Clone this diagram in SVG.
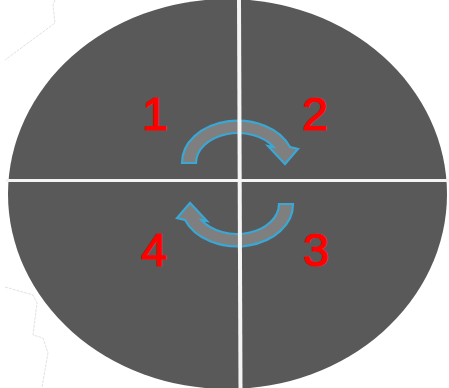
<svg xmlns="http://www.w3.org/2000/svg" width="449" height="388" viewBox="0 0 449 388">
  <style>
    .disc { fill: #595959; }
    .divider { stroke: #f4f4f4; fill: none; }
    .arrow { fill: #7f7f7f; stroke: #3aa7d4; stroke-width: 2.2; stroke-linejoin: miter; }
    .num { font-family: "Liberation Sans", Arial, sans-serif; font-size: 47px; fill: #ff0000; stroke: #ff0000; stroke-width: 1.2; text-anchor: middle; }
    .edge { fill: none; stroke: #e2e2e2; stroke-width: 1; stroke-dasharray: 3 1; }
  </style>
  <defs>
    <path id="curved-arrow" d="M 182,163 A 56 42 0 0 1 290,147 L 298,149 L 285,164 L 268,146 L 273.5,147 A 42 30 0 0 0 196,163 Z"/>
  </defs>
  <rect width="449" height="388" fill="#ffffff"/>
  <g id="edges">
    <polyline class="edge" points="55,0 53,5 55,23 5,60"/>
    <polyline class="edge" points="5,287 33,295 37,303 33,335 43,338 48,353 42,387"/>
  </g>
  <g id="disc">
    <ellipse class="disc" cx="227.5" cy="194" rx="219.5" ry="195"/>
  </g>
  <g id="connectors">
    <use href="#curved-arrow" class="arrow"/>
    <use href="#curved-arrow" class="arrow" transform="rotate(180 237.5 183.5)"/>
  </g>
  <g id="dividers">
    <line class="divider" x1="239" y1="-2" x2="240.5" y2="390" stroke-width="4"/>
    <line class="divider" x1="6" y1="180.5" x2="449" y2="180.5" stroke-width="3"/>
  </g>
  <g id="label-1"><text class="num" x="155" y="130">1</text></g>
  <g id="label-2"><text class="num" x="315" y="130">2</text></g>
  <g id="label-3"><text class="num" x="316" y="266">3</text></g>
  <g id="label-4"><text class="num" x="154" y="266">4</text></g>
</svg>
